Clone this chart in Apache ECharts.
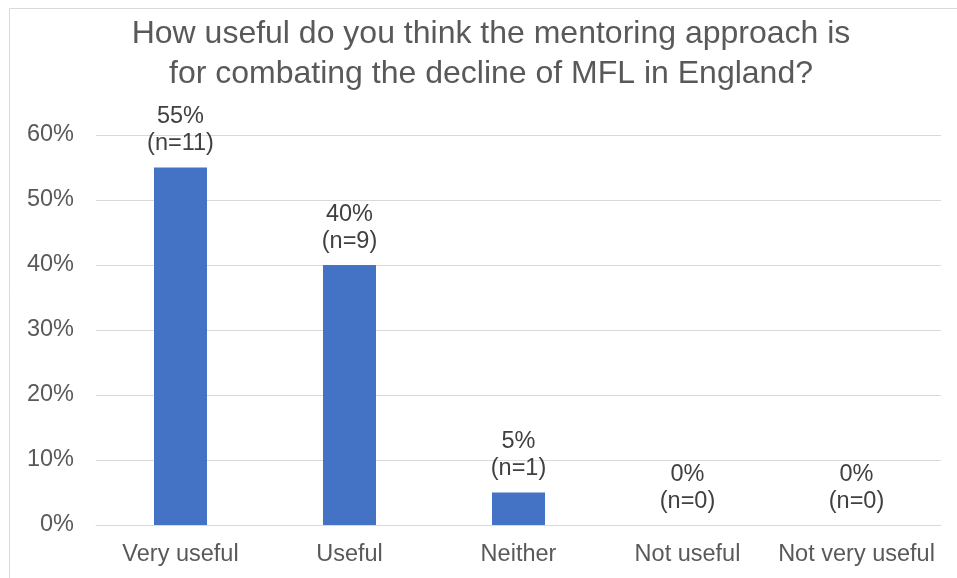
<!DOCTYPE html>
<html><head><meta charset="utf-8">
<script src="https://cdn.jsdelivr.net/npm/echarts@6/dist/echarts.min.js"></script>
<style>html,body{margin:0;padding:0;background:#fff}#c{width:957px;height:578px}</style>
</head><body><div id="c"></div>
<script>
const categories = ["Very useful", "Useful", "Neither", "Not useful", "Not very useful"];
const percentages = [55, 40, 5, 0, 0];
const counts = [11, 9, 1, 0, 0];
const yTicks = [0, 10, 20, 30, 40, 50, 60];
const titleLines = ["How useful do you think the mentoring approach is", "for combating the decline of MFL in England?"];

const chart = echarts.init(document.getElementById('c'), null, {renderer: 'canvas'});
const font = 'Liberation Sans, Arial, sans-serif';
chart.setOption({
  animation: false,
  graphic: [{
    type: 'rect', shape: {x: 9.5, y: 8.5, width: 1000, height: 700},
    style: {fill: 'none', stroke: '#d9d9d9', lineWidth: 1}, silent: true
  }],
  title: {
    text: titleLines.join('\n'), left: 486, top: 9, textAlign: 'center',
    textStyle: {fontFamily: font, fontSize: 32, fontWeight: 'normal', color: '#595959', lineHeight: 40}
  },
  grid: {left: 96, right: 16, top: 135, bottom: 53},
  xAxis: {
    type: 'category', data: categories,
    axisLine: {show: true, lineStyle: {color: '#d9d9d9', width: 1}},
    axisTick: {show: false},
    axisLabel: {fontFamily: font, fontSize: 23.5, color: '#595959', margin: 18, interval: 0}
  },
  yAxis: {
    type: 'value', min: yTicks[0], max: yTicks[yTicks.length - 1], interval: 10,
    axisLine: {show: false}, axisTick: {show: false},
    splitLine: {lineStyle: {color: '#d9d9d9', width: 1}},
    axisLabel: {fontFamily: font, fontSize: 23.5, color: '#595959', margin: 22, formatter: v => v + '%'}
  },
  series: [{
    type: 'bar', data: percentages, barWidth: 53,
    itemStyle: {color: '#4472C4'},
    label: {
      show: true, position: 'top', distance: 10,
      fontFamily: font, fontSize: 23.5, color: '#404040', lineHeight: 27,
      formatter: p => p.value + '%\n(n=' + counts[p.dataIndex] + ')'
    }
  }]
});
</script></body></html>
